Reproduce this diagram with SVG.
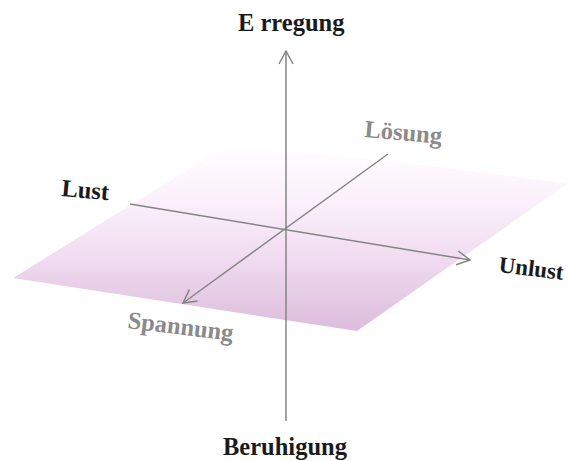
<svg xmlns="http://www.w3.org/2000/svg" width="568" height="461" viewBox="0 0 568 461">
<style>
.lbl{font-family:"Liberation Serif","Times New Roman",serif;font-weight:bold;font-size:24.5px}
.dark{fill:#1a1a1a}
.gray{fill:#8a8a8a}
.axis{stroke:#858585;stroke-width:1.5;fill:none}
</style>
<defs>
<linearGradient id="plane" x1="0" y1="146" x2="0" y2="332" gradientUnits="userSpaceOnUse">
<stop offset="0" stop-color="#fffeff"/>
<stop offset="0.3" stop-color="#fbf0fb"/>
<stop offset="0.6" stop-color="#f0dcf0"/>
<stop offset="1" stop-color="#dbbcdb"/>
</linearGradient>
<marker id="arr" viewBox="0 0 16 16" refX="15" refY="8" markerWidth="16" markerHeight="16" markerUnits="userSpaceOnUse" orient="auto">
<path d="M2,1 L15,8 L2,15" fill="none" stroke="#858585" stroke-width="1.5"/>
</marker>
</defs>
<g id="plane-surface">
<path d="M13,278 L226,146 Q400,160 567,184 L357,331 Z" fill="url(#plane)"/>
</g>
<g id="connectors">
<line class="axis" x1="286" y1="421" x2="286" y2="51" marker-end="url(#arr)"/>
<line class="axis" x1="130" y1="204" x2="470" y2="260" marker-end="url(#arr)"/>
<line class="axis" x1="388" y1="154" x2="183" y2="303" marker-end="url(#arr)"/>
</g>
<g id="erregung"><text class="lbl dark" x="238" y="31">E rregung</text></g>
<g id="beruhigung"><text class="lbl dark" x="223" y="455">Beruhigung</text></g>
<g id="lust"><text class="lbl dark" x="61" y="196" transform="rotate(5 61 196)">Lust</text></g>
<g id="unlust"><text class="lbl dark" x="498" y="272" font-size="23" transform="rotate(7 498 272)" style="font-size:23px">Unlust</text></g>
<g id="loesung"><text class="lbl gray" x="364" y="137" transform="rotate(5 364 137)">Lösung</text></g>
<g id="spannung"><text class="lbl gray" x="127" y="328" transform="rotate(7 127 328)">Spannung</text></g>
</svg>
